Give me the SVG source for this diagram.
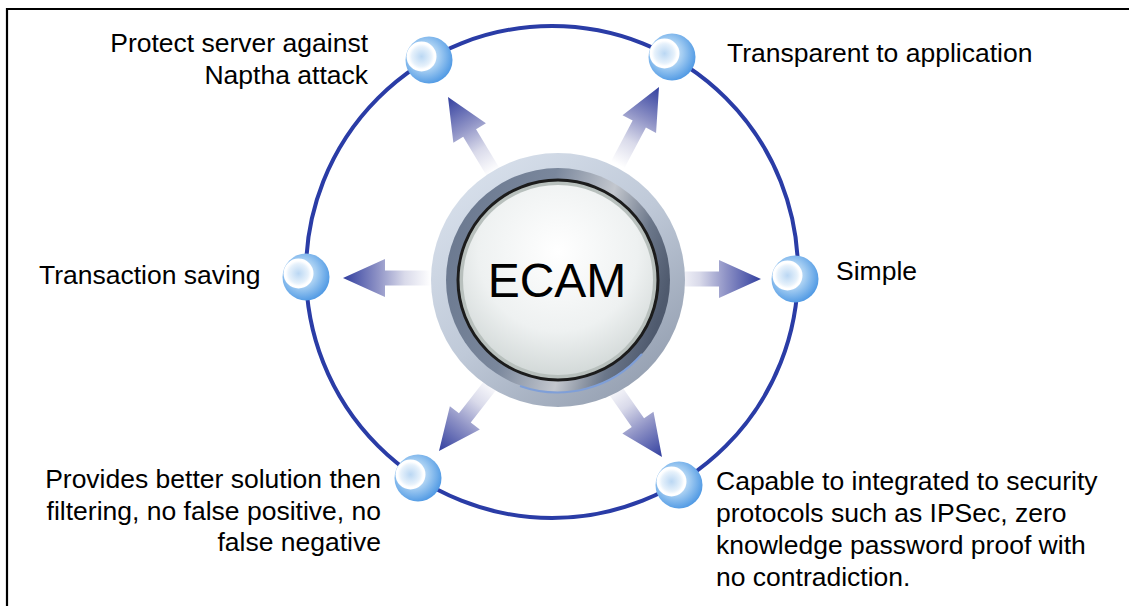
<svg xmlns="http://www.w3.org/2000/svg" width="1129" height="606" viewBox="0 0 1129 606">
<defs>
<style>
.lbl{font-family:"Liberation Sans",Arial,sans-serif;font-size:26.5px;fill:#000}
.end{text-anchor:end}
</style>
<linearGradient id="arrowG" gradientUnits="userSpaceOnUse" x1="-88" y1="0" x2="0" y2="0">
<stop offset="0" stop-color="#ffffff"/>
<stop offset="0.3" stop-color="#d9daea"/>
<stop offset="0.6" stop-color="#8f93c6"/>
<stop offset="1" stop-color="#323f9f"/>
</linearGradient>
<radialGradient id="sphereG" cx="0.42" cy="0.42" r="0.6">
<stop offset="0" stop-color="#eef6fd"/>
<stop offset="0.5" stop-color="#a4cdf2"/>
<stop offset="1" stop-color="#519ae4"/>
</radialGradient>
<radialGradient id="hiG" cx="0.5" cy="0.5" r="0.5">
<stop offset="0" stop-color="#bad7f3"/>
<stop offset="0.65" stop-color="#e6f1fb"/>
<stop offset="0.85" stop-color="#ffffff"/>
<stop offset="1" stop-color="#ffffff"/>
</radialGradient>
<linearGradient id="ring1" x1="0.1" y1="0" x2="0.9" y2="1">
<stop offset="0" stop-color="#dbe3ee"/>
<stop offset="0.5" stop-color="#bfc9d8"/>
<stop offset="1" stop-color="#8d98aa"/>
</linearGradient>
<linearGradient id="ring2" x1="0" y1="0.2" x2="1" y2="0.5">
<stop offset="0" stop-color="#6a788f"/>
<stop offset="0.4" stop-color="#7a879c"/>
<stop offset="0.66" stop-color="#c3c7ce"/>
<stop offset="0.85" stop-color="#6b778a"/>
<stop offset="1" stop-color="#4f5a6e"/>
</linearGradient>
<radialGradient id="btnG" cx="0.5" cy="0.35" r="0.7">
<stop offset="0" stop-color="#ffffff"/>
<stop offset="0.6" stop-color="#eef1f1"/>
<stop offset="1" stop-color="#cdd4d3"/>
</radialGradient>
<path id="arrow" d="M0,0 L-42,-19 L-42,-7.5 L-88,-7.5 L-88,7.5 L-42,7.5 L-42,19 Z" fill="url(#arrowG)"/>
<g id="sphere">
<circle r="23.5" fill="url(#sphereG)"/>
<circle cx="-7.5" cy="-3.5" r="15" fill="url(#hiG)"/>
</g>
</defs>
<rect width="1129" height="606" fill="#ffffff"/>
<path d="M7,606 L7,9 L1129,9" fill="none" stroke="#000" stroke-width="2.2"/>
<g id="ring">
<circle cx="552" cy="272" r="246" fill="none" stroke="#2a3ca6" stroke-width="4"/>
</g>
<g id="connectors">
<use href="#arrow" transform="translate(761,279)"/>
<use href="#arrow" transform="translate(343,278) rotate(180)"/>
<use href="#arrow" transform="translate(448,97) rotate(-121)"/>
<use href="#arrow" transform="translate(659,87) rotate(-62)"/>
<use href="#arrow" transform="translate(439,451) rotate(128)"/>
<use href="#arrow" transform="translate(662,457) rotate(55)"/>
</g>
<g id="hub">
<circle cx="558" cy="280" r="127" fill="url(#ring1)"/>
<circle cx="558" cy="280" r="112" fill="url(#ring2)"/>
<path d="M642,354 A112,112 0 0 1 520,386" fill="none" stroke="#7f9fd8" stroke-width="2"/>
<circle cx="558" cy="280" r="100" fill="#b8c0bd" stroke="#1c1c1c" stroke-width="3"/>
<circle cx="558" cy="280" r="95" fill="url(#btnG)"/>
<text x="557" y="297" text-anchor="middle" style="font-family:'Liberation Sans',Arial,sans-serif;font-size:48px;fill:#000">ECAM</text>
</g>
<g id="node-naptha">
<use href="#sphere" transform="translate(429,60)"/>
<text class="lbl end" x="368" y="52">Protect server against</text>
<text class="lbl end" x="368" y="84">Naptha attack</text>
</g>
<g id="node-transparent">
<use href="#sphere" transform="translate(672,57)"/>
<text class="lbl" x="727" y="62">Transparent to application</text>
</g>
<g id="node-transaction">
<use href="#sphere" transform="translate(306,277)"/>
<text class="lbl" x="39" y="284">Transaction saving</text>
</g>
<g id="node-simple">
<use href="#sphere" transform="translate(795,279)"/>
<text class="lbl" x="836" y="280">Simple</text>
</g>
<g id="node-filtering">
<use href="#sphere" transform="translate(418,478)"/>
<text class="lbl end" x="381" y="488">Provides better solution then</text>
<text class="lbl end" x="381" y="519.5">filtering, no false positive, no</text>
<text class="lbl end" x="381" y="551">false negative</text>
</g>
<g id="node-security">
<use href="#sphere" transform="translate(679,485)"/>
<text class="lbl" x="716" y="490">Capable to integrated to security</text>
<text class="lbl" x="716" y="522">protocols such as IPSec, zero</text>
<text class="lbl" x="716" y="554">knowledge password proof with</text>
<text class="lbl" x="716" y="586">no contradiction.</text>
</g>
</svg>
